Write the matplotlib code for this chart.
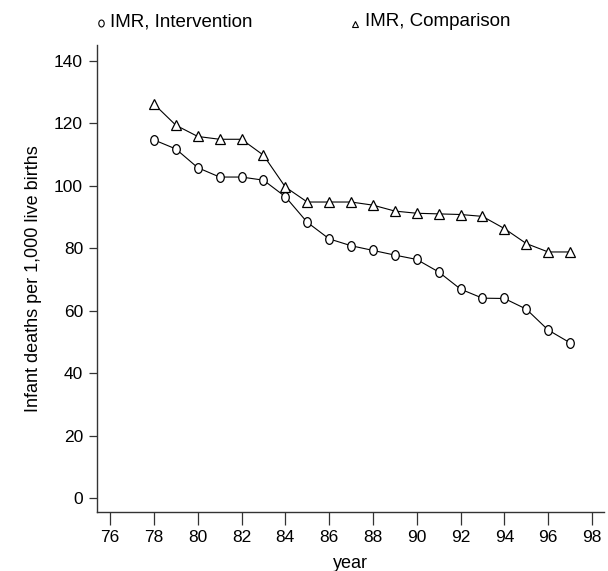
import matplotlib
matplotlib.use("Agg")
import matplotlib.pyplot as plt
from matplotlib.lines import Line2D
from matplotlib.path import Path
from matplotlib.transforms import Affine2D

plt.rcParams['font.family'] = ['Liberation Sans', 'DejaVu Sans']

years = [78, 79, 80, 81, 82, 83, 84, 85, 86, 87, 88, 89, 90, 91, 92, 93, 94, 95, 96, 97]
imr_intervention = [114.7, 111.8, 105.8, 102.8, 102.8, 101.8, 96.5, 88.3, 83.0, 80.8, 79.3, 77.8, 76.4, 72.4, 66.9, 64.0, 63.9, 60.5, 53.8, 49.7]
imr_comparison = [126.2, 119.4, 115.8, 114.9, 114.9, 109.8, 99.6, 94.8, 94.8, 94.8, 93.8, 91.9, 91.2, 91.0, 90.8, 90.2, 86.3, 81.5, 78.8, 78.8]
xticks = [76, 78, 80, 82, 84, 86, 88, 90, 92, 94, 96, 98]
yticks = [0, 20, 40, 60, 80, 100, 120, 140]

ellipse = Path.unit_circle().transformed(Affine2D().scale(0.78, 1.0))

fig = plt.figure(figsize=(6.08, 5.71), dpi=100)
ax = fig.add_axes([97/608, 1-512/571, 507/608, 467/571])

ax.plot(years, imr_intervention, color='black', lw=0.8, marker=ellipse, ms=7,
        mfc='white', mec='black', mew=0.9)
ax.plot(years, imr_comparison, color='black', lw=0.8, marker='^', ms=6.5,
        mfc='white', mec='black', mew=0.9)

ax.set_xlim(75.4, 98.55)
ax.set_ylim(-4.5, 145.1)
ax.set_xticks(xticks)
ax.set_yticks(yticks)
ax.set_xticklabels([str(t) for t in xticks])
ax.set_yticklabels([str(t) for t in yticks])
for s in ['top', 'right']:
    ax.spines[s].set_visible(False)
for s in ['left', 'bottom']:
    ax.spines[s].set_color('#333333')
    ax.spines[s].set_linewidth(1.0)
ax.tick_params(axis='y', length=6, width=0.9, color='#333333', labelsize=12.5, pad=4)
ax.tick_params(axis='x', length=9, width=0.9, color='#333333', labelsize=12.5, pad=4)
ax.set_xlabel('year', fontsize=13, labelpad=7)
ax.set_ylabel('Infant deaths per 1,000 live births', fontsize=13, labelpad=9)

# legend at top
fig.add_artist(Line2D([101/608], [1-23/571], marker=ellipse, ms=5, mfc='white', mec='black',
                      mew=0.8, transform=fig.transFigure, linestyle='none'))
fig.text(110/608, 1-22/571, 'IMR, Intervention', fontsize=13.5, va='center', ha='left')
fig.add_artist(Line2D([355/608], [1-24/571], marker='^', ms=4.5, mfc='white', mec='black',
                      mew=0.8, transform=fig.transFigure, linestyle='none'))
fig.text(365/608, 1-22/571, 'IMR, Comparison', fontsize=13.5, va='center', ha='left')

fig.savefig('out.png', dpi=100)
